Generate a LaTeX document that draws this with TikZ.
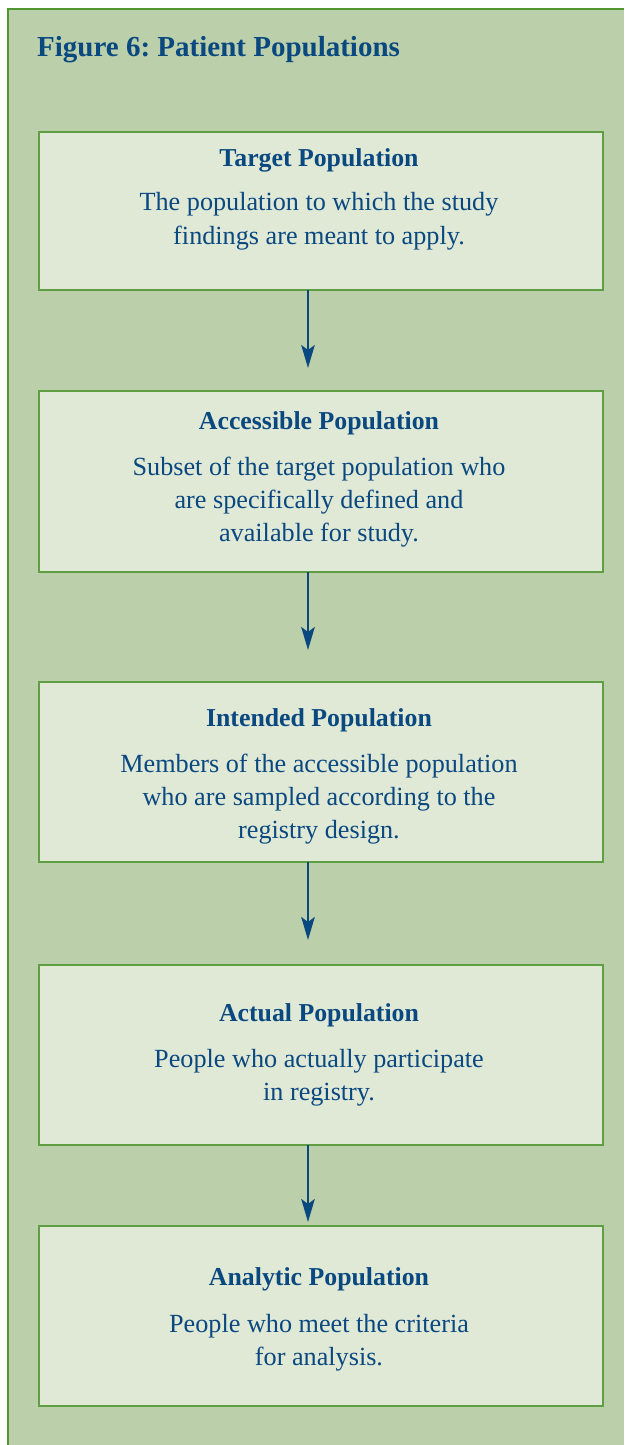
\documentclass[tikz,border=0pt]{standalone}
\usepackage{fontspec}
\setmainfont{Liberation Serif}
\usetikzlibrary{arrows.meta}
\definecolor{txtblue}{RGB}{10,72,128}
\definecolor{framefill}{RGB}{187,208,170}
\definecolor{framegreen}{RGB}{82,150,48}
\definecolor{boxfill}{RGB}{224,232,214}
\definecolor{boxgreen}{RGB}{96,158,66}
\frenchspacing
\begin{document}
\begin{tikzpicture}[x=1pt,y=1pt,
  boxnode/.style={draw=boxgreen, line width=1.5pt, fill=boxfill, minimum width=564pt, inner sep=0pt, outer sep=0pt, anchor=north west},
  head/.style={font=\fontsize{25.8}{30}\selectfont\bfseries, text=txtblue, anchor=base, inner sep=0pt},
  body/.style={font=\fontsize{26.2}{30}\selectfont, text=txtblue, anchor=base, inner sep=0pt},
  title/.style={font=\fontsize{29}{34}\selectfont\bfseries, text=txtblue, anchor=base west, inner sep=0pt},
  arr/.style={-{Stealth[length=23pt,width=13.5pt,inset=5pt]}, line width=2.4pt, draw=txtblue}]
\useasboundingbox (0,0) rectangle (624,-1445);
% frame
\fill[framefill] (8,-9) rectangle (624,-1445);
\draw[framegreen, line width=2pt] (8,-1445) -- (8,-9) -- (624,-9);
\node[title] (title) at (37,-56.7) {Figure 6: Patient Populations};
% boxes
\node[boxnode, minimum height=158pt] (b1) at (39,-132) {};
\node[boxnode, minimum height=181pt] (b2) at (39,-391) {};
\node[boxnode, minimum height=180pt] (b3) at (39,-682) {};
\node[boxnode, minimum height=180pt] (b4) at (39,-965) {};
\node[boxnode, minimum height=180pt] (b5) at (39,-1226) {};
% texts
\node[head] (h1) at (319,-166) {Target Population};
\node[body] (l1a) at (319,-210) {The population to which the study};
\node[body] (l1b) at (319,-244) {findings are meant to apply.};
\node[head] (h2) at (319,-429) {Accessible Population};
\node[body] (l2a) at (319,-475) {Subset of the target population who};
\node[body] (l2b) at (319,-508) {are specifically defined and};
\node[body] (l2c) at (319,-541) {available for study.};
\node[head] (h3) at (319,-726) {Intended Population};
\node[body] (l3a) at (319,-772) {Members of the accessible population};
\node[body] (l3b) at (319,-805) {who are sampled according to the};
\node[body] (l3c) at (319,-838) {registry design.};
\node[head] (h4) at (319,-1021) {Actual Population};
\node[body] (l4a) at (319,-1067) {People who actually participate};
\node[body] (l4b) at (319,-1100) {in registry.};
\node[head] (h5) at (319,-1285) {Analytic Population};
\node[body] (l5a) at (319,-1332) {People who meet the criteria};
\node[body] (l5b) at (319,-1365) {for analysis.};
% arrows
\coordinate (s1) at ([xshift=-13pt]b1.south);
\coordinate (s2) at ([xshift=-13pt]b2.south);
\coordinate (s3) at ([xshift=-13pt]b3.south);
\coordinate (s4) at ([xshift=-13pt]b4.south);
\coordinate (e1) at ([yshift=-78pt]s1);
\coordinate (e2) at ([yshift=-78pt]s2);
\coordinate (e3) at ([yshift=-78pt]s3);
\coordinate (e4) at ([yshift=-77pt]s4);
\draw[arr] (s1) -- (e1);
\draw[arr] (s2) -- (e2);
\draw[arr] (s3) -- (e3);
\draw[arr] (s4) -- (e4);
\end{tikzpicture}
\end{document}
